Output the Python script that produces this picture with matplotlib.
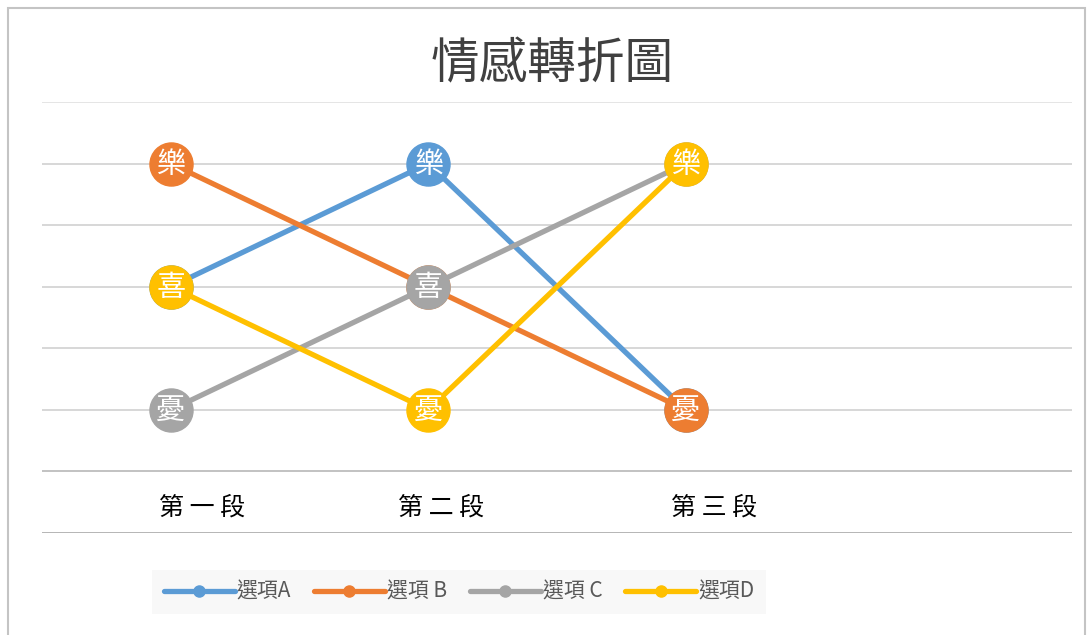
import matplotlib.pyplot as plt
from matplotlib.lines import Line2D
from matplotlib.patches import Rectangle

plt.rcParams['font.family'] = ['Noto Sans CJK TC', 'DejaVu Sans']

# data
stages = ['第 一 段', '第 二 段', '第 三 段']
mood_value = {'憂': 1, '喜': 3, '樂': 5}
series_names = ['選項A', '選項 B', '選項 C', '選項D']
series_moods = [
    ['喜', '樂', '憂'],
    ['樂', '喜', '憂'],
    ['憂', '喜', '樂'],
    ['喜', '憂', '樂'],
]
colors = ['#5B9BD5', '#ED7D31', '#A5A5A5', '#FFC000']

fig = plt.figure(figsize=(10.89, 6.35), dpi=100)
ax = fig.add_axes([42 / 1089, 1 - 533 / 635, 1030 / 1089, 431 / 635])
ax.set_xlim(-0.5, 3.5)
ax.set_ylim(-1, 6)
ax.axis('off')

# gridlines
grid_col = {6: '#E3E3E3', 0: '#BDBDBD', -1: '#B0B0B0'}
for v in range(-1, 7):
    ax.axhline(v, color=grid_col.get(v, '#D4D4D4'), lw=1.3, zorder=0)

for i, (name, moods) in enumerate(zip(series_names, series_moods)):
    xs = list(range(len(moods)))
    ys = [mood_value[m] for m in moods]
    ax.plot(xs, ys, color=colors[i], lw=3.8, marker='o', markersize=31,
            markeredgecolor=colors[i], zorder=2 + i, solid_capstyle='round')
    for x, y, m in zip(xs, ys, moods):
        ax.text(x, y - 0.02, m, color='white', fontsize=21, ha='center',
                va='center', zorder=2 + i)

# category labels
label_shift = [0.12, 0.05, 0.11]
for j, s in enumerate(stages):
    ax.text(j + label_shift[j], -0.58, s, fontsize=18, color='black',
            ha='center', va='center')

fig.text(552 / 1089, 1 - 65 / 635, '情感轉折圖', fontsize=35, color='#404040',
         ha='center', va='center')

# outer border
fig.patches.append(Rectangle((8 / 1089, -0.1), 1077 / 1089, 1.1 - 8 / 635,
                             transform=fig.transFigure, fill=False,
                             edgecolor='#C4C4C4', lw=1.5))

handles = [Line2D([0], [0], color=c, lw=3.8, marker='o', markersize=8,
                  solid_capstyle='round') for c in colors]
leg = fig.legend(handles, series_names, loc='center',
                 bbox_to_anchor=(459 / 1089, 1 - 592 / 635), ncol=4,
                 frameon=True, facecolor='#F7F7F7', edgecolor='none',
                 fancybox=False, handlelength=3.4, handletextpad=0.1,
                 columnspacing=1.1, prop={'size': 15}, borderpad=0.55)
for t in leg.get_texts():
    t.set_color('#595959')

fig.savefig('out.png', dpi=100)
